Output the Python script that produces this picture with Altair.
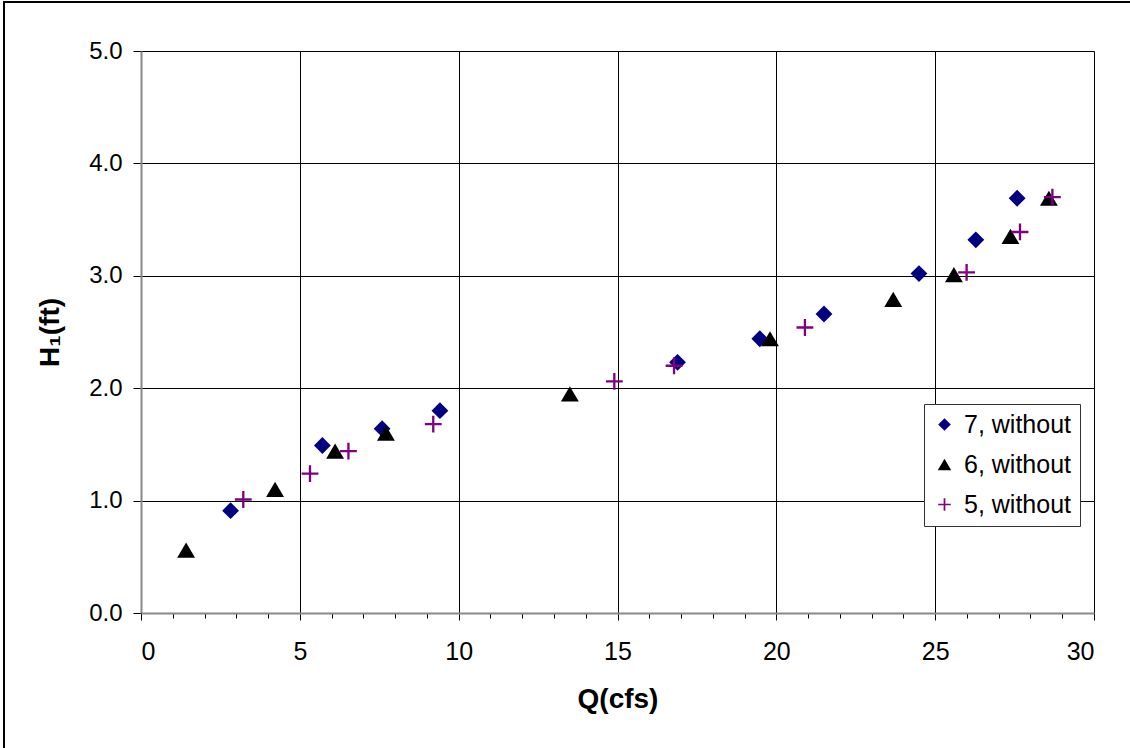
import altair as alt
import pandas as pd

# Discharge Q (cfs) and head H1 (ft) for each configuration
q_7 = [2.82, 5.71, 7.59, 9.41, 16.89, 19.48, 21.50, 24.49, 26.28, 27.58]
h_7 = [0.91, 1.49, 1.64, 1.80, 2.23, 2.44, 2.66, 3.02, 3.32, 3.69]
q_6 = [1.42, 4.22, 6.11, 7.71, 13.50, 19.80, 23.68, 25.59, 27.37, 28.58]
h_6 = [0.56, 1.10, 1.44, 1.60, 1.95, 2.44, 2.79, 3.01, 3.35, 3.69]
q_5 = [3.22, 5.32, 6.53, 9.20, 14.90, 16.78, 20.90, 25.99, 27.67, 28.69]
h_5 = [1.01, 1.24, 1.44, 1.68, 2.06, 2.20, 2.54, 3.03, 3.39, 3.70]

series_names = ["7, without", "6, without", "5, without"]
x_major = [0, 5, 10, 15, 20, 25, 30]
x_minor = list(range(0, 31))
y_ticks = [0, 1, 2, 3, 4, 5]

frames = []
for name, q, h in zip(series_names, [q_7, q_6, q_5], [h_7, h_6, h_5]):
    frames.append(pd.DataFrame({"Q": q, "H": h, "series": name}))
df = pd.concat(frames, ignore_index=True)

FONT = "Liberation Sans"
W, H = 953, 562

diamond = "M0,-0.94L0.94,0L0,0.94L-0.94,0Z"
triangle = "M0,-0.85L1,0.85L-1,0.85Z"
plus = "M-0.94,-0.13H-0.13V-0.94H0.13V-0.13H0.94V0.13H0.13V0.94H-0.13V0.13H-0.94Z"

x_scale = alt.Scale(domain=[0, 30], nice=False, zero=False)
y_scale = alt.Scale(domain=[0, 5], nice=False)

points = alt.Chart(df).mark_point(filled=True, size=320, opacity=1, strokeWidth=0).encode(
    x=alt.X("Q:Q", scale=x_scale, axis=alt.Axis(
        values=x_major, orient="bottom", title="Q(cfs)", grid=True, gridColor="#000",
        gridWidth=1, tickSize=7, tickColor="#000", domainColor="#888", domainWidth=2,
        labelFontSize=25, labelPadding=19, labelFont=FONT, labelColor="#000",
        titleFont=FONT, titleFontSize=28, titleFontWeight="bold", titleColor="#000",
        titlePadding=21)),
    y=alt.Y("H:Q", scale=y_scale, axis=alt.Axis(
        values=y_ticks, format=".1f", title="H₁(ft)", grid=True, gridColor="#000",
        gridWidth=1, tickSize=8, tickColor="#000", domainColor="#888", domainWidth=2,
        labelFontSize=24, labelPadding=11, labelFont=FONT, labelColor="#000",
        titleFont=FONT, titleFontSize=28, titleFontWeight="bold", titleColor="#000",
        titlePadding=24)),
    color=alt.Color("series:N", scale=alt.Scale(
        domain=series_names, range=["#000080", "#000000", "#800080"]),
        legend=alt.Legend(title=None, orient="none", legendX=783, legendY=353,
                          fillColor="white", strokeColor="#333", padding=8,
                          rowPadding=14, symbolSize=180, symbolStrokeWidth=0,
                          labelFontSize=25, labelFont=FONT, labelColor="#000",
                          labelOffset=7)),
    shape=alt.Shape("series:N", scale=alt.Scale(
        domain=series_names, range=[diamond, triangle, plus]), legend=None),
    order=alt.Order("idx:Q"),
).transform_window(idx="row_number()")

# Minor tick marks along the Q axis
minor = alt.Chart(df).mark_point(opacity=0).encode(
    x=alt.X("Q:Q", scale=x_scale, axis=alt.Axis(
        values=x_minor, orient="bottom", labels=False, title=None, grid=False,
        domain=False, tickSize=5, tickColor="#000")),
)

# Outer frame lines
frame_data = alt.Data(values=[{"k": 0}])
left_edge = alt.Chart(frame_data).mark_rule(color="#000", strokeWidth=2, clip=False).encode(
    x=alt.value(-137), y=alt.value(-49), y2=alt.value(H + 140))
top_edge = alt.Chart(frame_data).mark_rule(color="#000", strokeWidth=2, clip=False).encode(
    x=alt.value(-138), x2=alt.value(W + 40), y=alt.value(-49))

chart = alt.layer(minor, points, left_edge, top_edge).resolve_axis(
    x="independent"
).properties(
    width=W, height=H,
    autosize=alt.AutoSizeParams(type="none"),
    padding={"left": 141, "top": 51, "right": 36, "bottom": 135},
).configure_view(stroke=None).configure(background="white")

chart.save("out.html", embed_options={"renderer": "svg", "actions": False})
